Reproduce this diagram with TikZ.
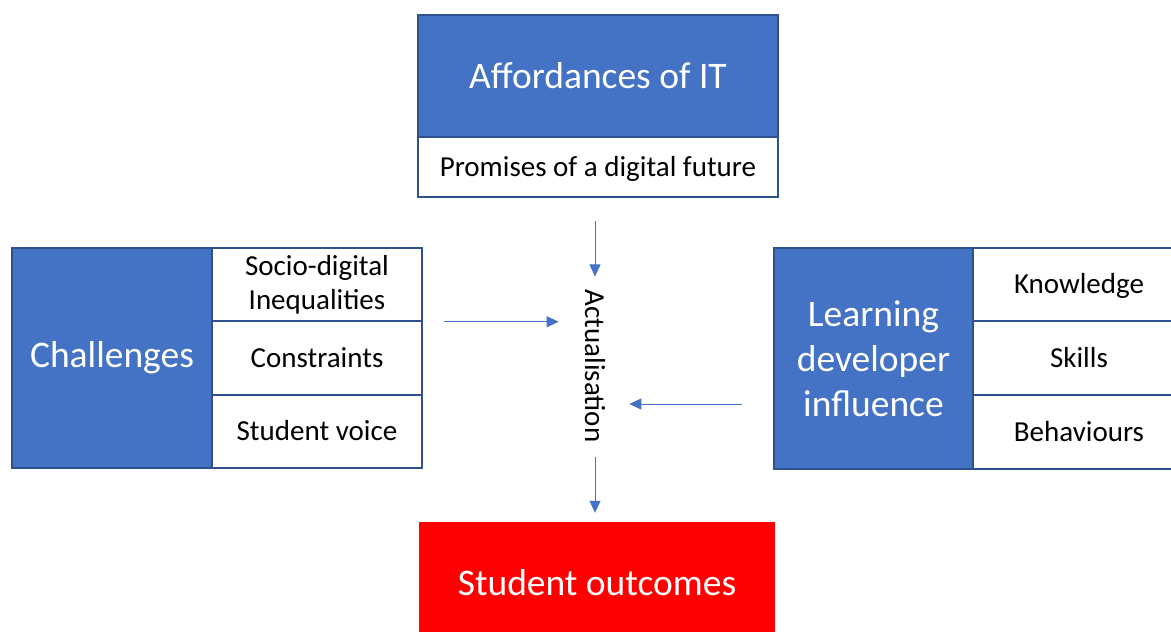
\documentclass[tikz,border=0pt]{standalone}
\usepackage{fontspec}
\setmainfont{Carlito}
\usetikzlibrary{arrows.meta}
\definecolor{boxblue}{HTML}{4472C4}
\definecolor{edgeblue}{HTML}{2F528F}
\definecolor{outred}{HTML}{FF0000}
\begin{document}
\begin{tikzpicture}[x=1pt,y=-1pt,
  bigtext/.style={font=\fontsize{37.5}{45}\selectfont, text=white, align=center},
  smalltext/.style={font=\fontsize{29}{34}\selectfont, text=black, align=center},
  headbox/.style={draw=edgeblue, line width=1.5pt, fill=boxblue, bigtext, inner sep=0pt},
  cellbox/.style={draw=edgeblue, line width=1.5pt, fill=white, smalltext, inner sep=0pt},
  oneline/.style={text height=24pt, text depth=5.3pt},
  flow/.style={draw=boxblue, line width=1pt, -{Triangle[length=12pt,width=11pt]}}]
\useasboundingbox (0,0) rectangle (1171,632);

% top block
\node[headbox, minimum width=360pt, minimum height=122pt] (aff) at (598,76) {Affordances of IT};
\node[cellbox, oneline, minimum width=360pt, minimum height=60pt] (prom) at (598,167) {Promises of a digital future};

% left block
\node[headbox, minimum width=200pt, minimum height=220pt] (chal) at (112,358) {Challenges};
\node[cellbox, minimum width=210pt, minimum height=73pt] (sdi) at (317,284.5) {Socio-digital\\Inequalities};
\node[cellbox, oneline, minimum width=210pt, minimum height=74pt] (con) at (317,358) {Constraints};
\node[cellbox, oneline, minimum width=210pt, minimum height=73pt] (sv) at (317,431.5) {Student voice};

% right block
\node[headbox, minimum width=199pt, minimum height=221pt] (ldi) at (873.5,358.5) {Learning\\developer\\influence};
\node[cellbox, oneline, minimum width=212pt, minimum height=73pt] (kn) at (1079,284.5) {Knowledge};
\node[cellbox, oneline, minimum width=212pt, minimum height=74pt] (sk) at (1079,358) {Skills};
\node[cellbox, oneline, minimum width=212pt, minimum height=74pt] (be) at (1079,432) {Behaviours};

% bottom block
\node[fill=outred, bigtext, minimum width=356pt, minimum height=122pt, inner sep=0pt] (out) at (597,583) {Student outcomes};

% centre label
\node[smalltext, rotate=-90, inner sep=0pt] (act) at (595,366) {Actualisation};

% connectors
\draw[flow, shorten <=23pt, shorten >=13pt] (prom.south -| act.center) -- (act.west);
\draw[flow, shorten <=21pt, shorten >=26pt] (sdi.south east) -- (sdi.south east -| act.south);
\draw[flow, shorten <=31pt, shorten >=24pt] (ldi.west |- 0,404) -- (act.north |- 0,404);
\draw[flow, shorten <=14pt, shorten >=9pt] (act.east) -- (out.north -| act.center);
\end{tikzpicture}
\end{document}
